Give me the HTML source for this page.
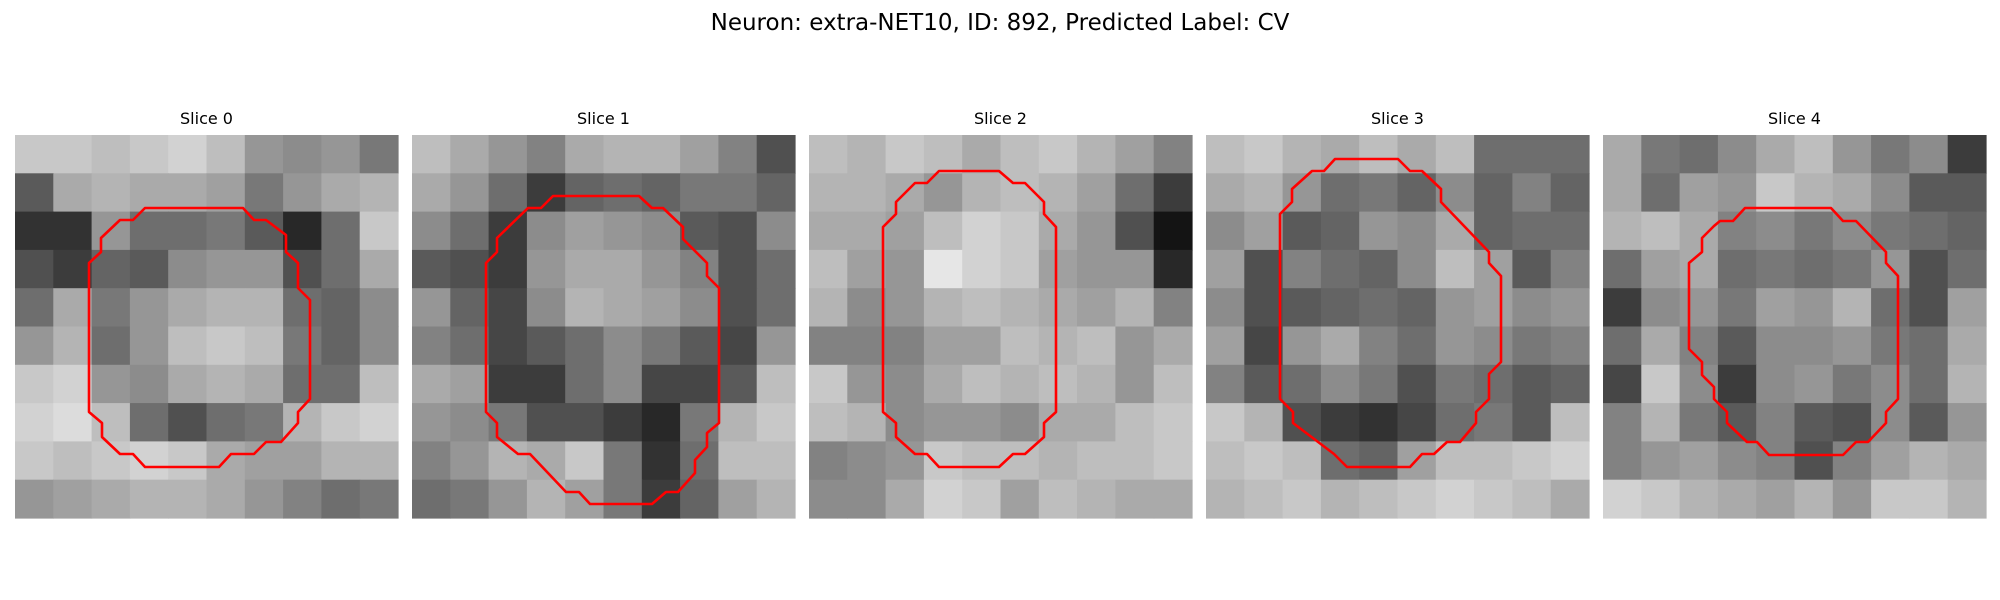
<!DOCTYPE html>
<html><head><meta charset="utf-8"><style>
html,body{margin:0;padding:0;background:#fff;width:2000px;height:600px;overflow:hidden}
svg{display:block}
</style></head><body>
<svg id="fig" width="2000" height="600" xmlns="http://www.w3.org/2000/svg">
<text x="1000" y="30" text-anchor="middle" font-family="DejaVu Sans, Liberation Sans, sans-serif" font-size="23" fill="#000">Neuron: extra-NET10, ID: 892, Predicted Label: CV</text>
</svg>
<script>
const sliceTitles = ["Slice 0","Slice 1","Slice 2","Slice 3","Slice 4"];
const grid0 = [[200,200,190,200,210,190,150,140,150,120],[90,170,180,170,170,160,120,150,170,180],[50,50,150,110,110,120,90,40,110,200],[80,60,100,90,140,150,150,80,110,170],[110,170,120,150,170,180,180,110,100,140],[150,180,110,150,190,200,190,120,100,140],[200,210,150,140,170,180,170,110,110,190],[210,220,190,110,80,110,120,180,200,210],[200,190,200,210,200,170,160,160,180,180],[150,160,170,180,180,170,150,130,110,120]];
const grid1 = [[190,170,150,130,170,180,180,160,130,80],[170,150,110,60,100,110,100,120,120,100],[140,110,60,140,160,150,140,90,80,140],[90,80,60,150,170,170,150,130,80,110],[150,100,70,140,180,170,160,140,80,110],[130,110,70,90,110,140,120,90,70,150],[170,160,60,60,110,140,70,70,90,190],[150,140,120,80,80,60,40,120,180,200],[130,150,180,170,200,120,50,110,190,190],[110,120,150,180,160,120,60,100,160,180]];
const grid2 = [[190,180,200,190,170,190,200,180,160,130],[180,180,170,150,180,190,180,160,110,60],[170,170,160,190,210,200,170,150,80,20],[190,160,150,230,210,200,160,150,150,40],[180,140,150,180,190,180,170,160,180,130],[130,130,130,160,160,190,180,190,150,170],[200,150,140,170,190,180,190,180,150,190],[190,180,140,150,150,140,170,170,190,200],[130,140,150,200,190,190,180,190,190,200],[140,140,170,210,200,160,190,180,170,170]];
const grid3 = [[190,200,180,170,190,170,190,110,110,110],[170,180,150,110,120,100,140,100,130,100],[140,160,90,100,150,140,170,100,110,110],[160,80,130,110,100,140,190,160,90,130],[140,80,90,100,110,100,150,160,140,150],[160,70,150,170,130,110,150,140,120,130],[130,90,110,140,120,80,120,110,90,100],[200,180,80,60,50,70,110,120,90,190],[190,200,190,110,100,160,190,190,200,210],[180,190,200,180,190,200,210,200,190,170]];
const grid4 = [[170,120,110,140,170,190,150,120,140,60],[170,110,160,150,200,180,170,140,90,90],[180,190,170,130,140,120,140,120,110,100],[110,160,170,110,120,110,120,150,80,110],[60,140,150,120,160,150,180,110,80,160],[110,170,130,90,140,140,150,120,110,170],[70,200,140,60,140,150,120,140,110,180],[130,180,120,90,130,90,80,140,90,150],[130,150,160,140,130,80,130,160,180,170],[210,200,180,170,160,180,150,200,200,180]];
const grids = [grid0,grid1,grid2,grid3,grid4];
const contour0 = [[130,73],[228,73],[239,85],[251,85],[271,100],[271,117],[283,128],[283,153],[295,165],[295,264],[283,277],[283,288],[266,307],[251,307],[239,319],[216,319],[204,332],[130,332],[118,319],[105,319],[87,302],[87,288],[74,277],[74,128],[86,117],[86,103],[105,85],[118,85]];
const contour1 = [[141,61],[227,61],[240,73],[251,73],[271,92],[271,104],[295,128],[295,141],[307,153],[307,288],[295,298],[295,312],[283,325],[283,338],[266,357],[254,357],[240,369],[178,369],[167,357],[154,357],[118,319],[106,319],[85,302],[85,288],[74,277],[74,128],[85,117],[85,103],[116,73],[129,73]];
const contour2 = [[130,36],[190,36],[204,48],[216,48],[235,67],[235,79],[247,92],[247,277],[235,288],[235,302],[216,319],[204,319],[190,332],[130,332],[118,319],[106,319],[87,302],[87,288],[74,277],[74,92],[87,79],[87,67],[106,48],[118,48]];
const contour3 = [[129,24],[192,24],[204,36],[216,36],[235,54],[235,67],[283,117],[283,128],[295,141],[295,227],[283,239],[283,264],[270,277],[270,288],[254,307],[241,307],[228,319],[216,319],[204,332],[141,332],[128,319],[87,288],[87,277],[74,264],[74,79],[86,67],[86,54],[106,36],[118,36]];
const contour4 = [[142,73],[228,73],[240,86],[253,86],[283,117],[283,128],[295,141],[295,264],[283,277],[283,288],[265,307],[253,307],[240,320],[166,320],[154,307],[144,307],[124,288],[124,277],[111,264],[111,252],[99,240],[99,227],[86,214],[86,128],[99,117],[99,103],[111,91],[117,86],[130,86]];
const contours = [contour0,contour1,contour2,contour3,contour4];

const NS = "http://www.w3.org/2000/svg";
const svg = document.getElementById('fig');
const P0 = 15, STEP = 397, TOP = 135, SIZE = 383;
function xPanel(i){ return P0 + i*STEP; }
for (let i=0;i<5;i++){
  const g = document.createElementNS(NS,'g');
  
  
  g.setAttribute('transform', `translate(${xPanel(i)},${TOP})`);
  svg.appendChild(g);
  const grid = grids[i];
  const n = grid.length, cw = SIZE/n;
  for (let r=0;r<n;r++) for (let c=0;c<grid[r].length;c++){
    const v = grid[r][c];
    const rect = document.createElementNS(NS,'rect');
    
    
    rect.setAttribute('x', (c*cw).toFixed(2));
    rect.setAttribute('y', (r*cw).toFixed(2));
    rect.setAttribute('width', (cw+0.6).toFixed(2));
    rect.setAttribute('height', (cw+0.6).toFixed(2));
    rect.setAttribute('fill', `rgb(${v},${v},${v})`);
    g.appendChild(rect);
  }
  const poly = document.createElementNS(NS,'polygon');
  
  
  poly.setAttribute('points', contours[i].map(p=>p[0]+','+p[1]).join(' '));
  poly.setAttribute('fill', 'none');
  poly.setAttribute('stroke', '#ff0000');
  poly.setAttribute('stroke-width', '2.6');
  poly.setAttribute('stroke-linejoin', 'round');
  g.appendChild(poly);
  const t = document.createElementNS(NS,'text');
  
  
  t.setAttribute('x', xPanel(i)+SIZE/2);
  t.setAttribute('y', 124);
  t.setAttribute('text-anchor', 'middle');
  t.setAttribute('font-family', 'DejaVu Sans, Liberation Sans, sans-serif');
  t.setAttribute('font-size', '16');
  t.textContent = sliceTitles[i];
  svg.appendChild(t);
}
</script>
</body></html>
